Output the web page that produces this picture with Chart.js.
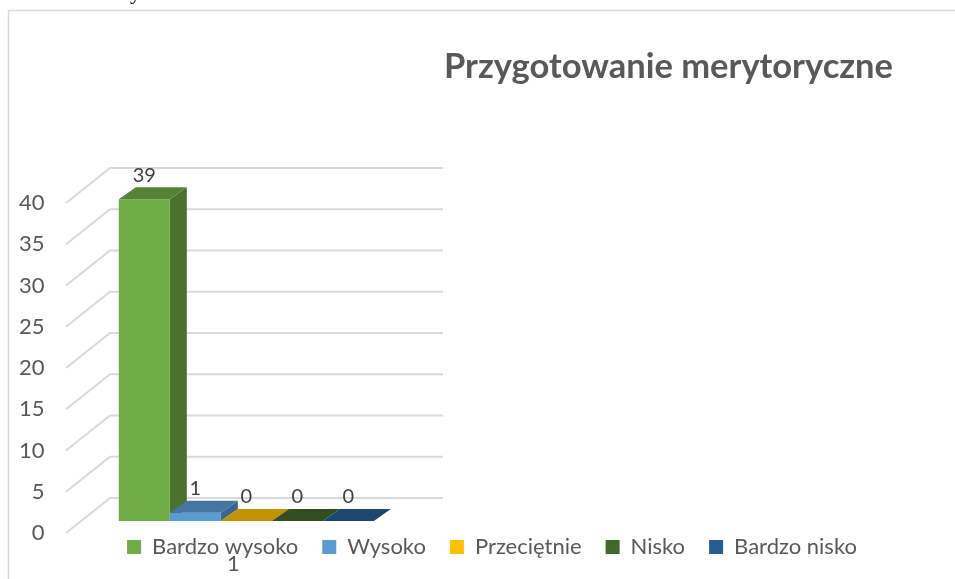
<!DOCTYPE html>
<html><head><meta charset="utf-8">
<script src="https://cdn.jsdelivr.net/npm/chart.js@4.4.0/dist/chart.umd.min.js"></script>
<style>
html,body{margin:0;padding:0;background:#fff;overflow:hidden}
#wrap{position:relative;width:955px;height:579px;overflow:hidden}
canvas{display:block}
#frag{position:absolute;left:130px;top:-21px;font:22px "Liberation Serif";color:#000}
</style></head><body>
<div id="wrap"><canvas id="c" width="955" height="579"></canvas><div id="frag">y</div></div>
<script>
const categories = ['1'];
const seriesNames = ['Bardzo wysoko', 'Wysoko', 'Przeciętnie', 'Nisko', 'Bardzo nisko'];
const seriesValues = [39, 1, 0, 0, 0];
const seriesColors = ['#70AD47', '#5B9BD5', '#FFC000', '#43682B', '#255E91'];
const yTicks = [0, 5, 10, 15, 20, 25, 30, 35, 40];
const titleText = 'Przygotowanie merytoryczne';

const FONT = 'Lato';
const DX = 17, DY = -12;          // bar depth
const WALL_DY = -23;              // back wall vs bar plane
const FRONT_DY = 12;              // front edge vs bar plane

function shade(hex, f) {
  const n = parseInt(hex.slice(1), 16);
  const r = Math.round(((n >> 16) & 255) * f), g = Math.round(((n >> 8) & 255) * f), b = Math.round((n & 255) * f);
  return `rgb(${r},${g},${b})`;
}

const threeD = {
  id: 'threeD',
  beforeDraw(chart) {
    const ctx = chart.ctx;
    ctx.save();
    ctx.strokeStyle = '#d9d9d9';
    ctx.lineWidth = 1.5;
    ctx.beginPath();
    ctx.moveTo(8.5, chart.height);
    ctx.lineTo(8.5, 10.5);
    ctx.lineTo(chart.width, 10.5);
    ctx.stroke();
    ctx.restore();
  },
  beforeDatasetsDraw(chart) {
    const {ctx, chartArea: a, scales: {y}} = chart;
    ctx.save();
    ctx.strokeStyle = '#d9d9d9';
    ctx.lineWidth = 2;
    y.ticks.forEach(t => {
      const yb = y.getPixelForValue(t.value) + WALL_DY;
      ctx.beginPath();
      ctx.moveTo(a.left - 51, yb - WALL_DY + FRONT_DY);
      ctx.lineTo(a.left - 7, yb);
      ctx.lineTo(a.left + 326, yb);
      ctx.stroke();
    });
    chart.data.datasets.forEach((ds, i) => {
      chart.getDatasetMeta(i).data.forEach(bar => {
        const p = bar.getProps(['x', 'y', 'base', 'width'], true);
        if (!isFinite(p.y) || p.base - p.y < 0.5) return;
        const r = p.x + p.width / 2;
        ctx.fillStyle = shade(ds.backgroundColor, 0.66);
        ctx.beginPath();
        ctx.moveTo(r, p.y);
        ctx.lineTo(r + DX, p.y + DY);
        ctx.lineTo(r + DX, p.base + DY);
        ctx.lineTo(r, p.base);
        ctx.closePath();
        ctx.fill();
      });
    });
    ctx.restore();
  },
  afterDatasetsDraw(chart) {
    const ctx = chart.ctx;
    ctx.save();
    chart.data.datasets.forEach((ds, i) => {
      chart.getDatasetMeta(i).data.forEach((bar, j) => {
        if (ds.data[j] == null) return;
        const p = bar.getProps(['x', 'y', 'base', 'width'], true);
        const l = p.x - p.width / 2, r = p.x + p.width / 2;
        ctx.fillStyle = shade(ds.backgroundColor, 0.76);
        ctx.beginPath();
        ctx.moveTo(l, p.y);
        ctx.lineTo(r, p.y);
        ctx.lineTo(r + DX, p.y + DY);
        ctx.lineTo(l + DX, p.y + DY);
        ctx.closePath();
        ctx.fill();
        ctx.fillStyle = '#404040';
        ctx.font = `20px ${FONT}`;
        ctx.textAlign = 'center';
        ctx.textBaseline = 'middle';
        ctx.fillText(String(ds.data[j]), p.x, p.y - 24);
      });
    });
    ctx.restore();
  }
};

// two empty slots after the single category only reserve room on the axis
const axisLabels = categories.concat(['', '']);

new Chart(document.getElementById('c'), {
  type: 'bar',
  data: {
    labels: axisLabels,
    datasets: seriesNames.map((n, i) => ({
      label: n,
      data: [seriesValues[i]],
      backgroundColor: seriesColors[i],
      borderWidth: 0,
      categoryPercentage: 0.986,
      barPercentage: 1
    }))
  },
  options: {
    responsive: false,
    animation: false,
    layout: {padding: {left: 91, right: 62, top: 0, bottom: 2}},
    scales: {
      x: {
        type: 'category',
        ticks: {mirror: true, padding: -56, labelOffset: -13, color: '#595959', font: {family: FONT, size: 22}},
        grid: {display: false, drawTicks: false},
        border: {display: false},
        afterFit(s) { s.height = -9; }
      },
      y: {
        position: 'left',
        min: 0, max: 40,
        afterBuildTicks(s) { s.ticks = yTicks.map(v => ({value: v})); },
        ticks: {mirror: true, crossAlign: 'far', padding: -98, labelOffset: 12, color: '#595959', font: {family: FONT, size: 22}},
        grid: {display: false, drawTicks: false},
        border: {display: false},
        afterFit(s) { s.width = 26; }
      }
    },
    plugins: {
      title: {
        display: true, text: titleText, align: 'end', color: '#595959',
        font: {family: FONT, size: 34.5, weight: 'bold'},
        padding: {top: 46, bottom: 103.6}
      },
      legend: {
        position: 'bottom',
        labels: {boxWidth: 14, boxHeight: 14, padding: 24, color: '#595959', font: {family: FONT, size: 22}}
      },
      tooltip: {enabled: false}
    }
  },
  plugins: [threeD]
});
</script>
</body></html>
